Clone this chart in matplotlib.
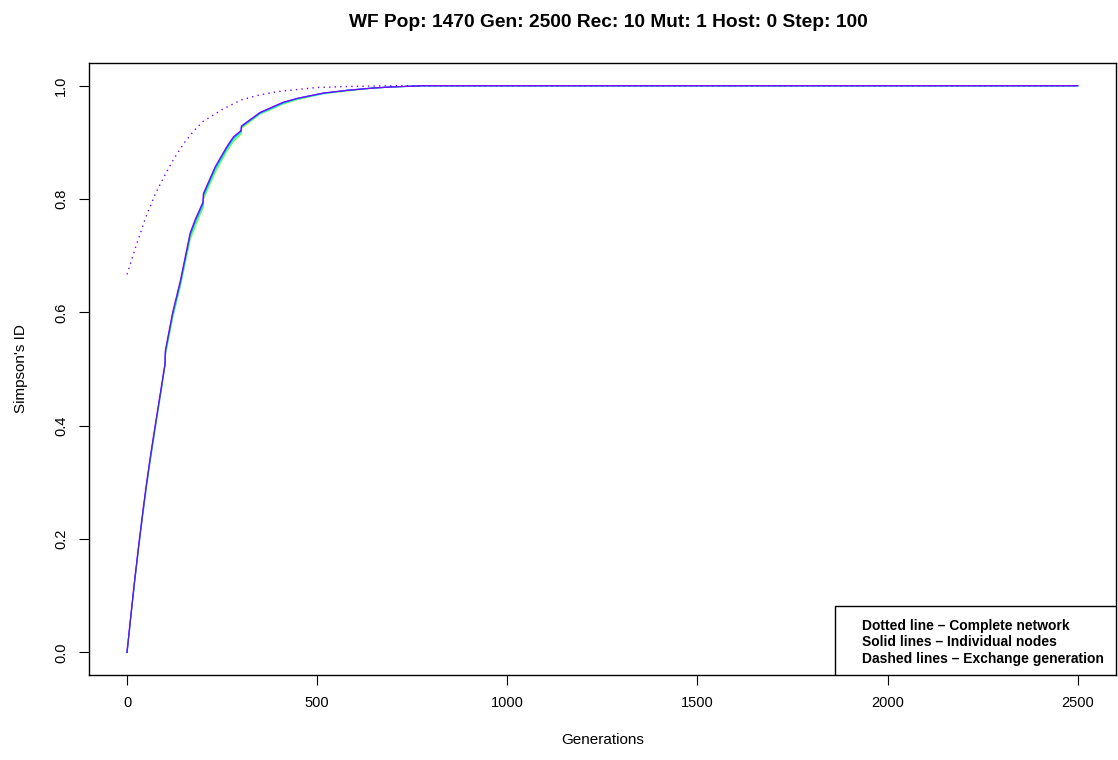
import matplotlib
matplotlib.use("Agg")
import matplotlib.pyplot as plt
from matplotlib.patches import Rectangle

plt.rcParams['font.family'] = ['Liberation Sans', 'DejaVu Sans']

# Simpson's ID per node (solid lines)
node_gens = [0, 10, 20, 30, 40, 50, 60, 70, 80, 90, 100, 101, 120, 140, 166, 180,
             200, 201, 232, 262, 280, 300, 301, 350, 411, 450, 516, 580, 648, 700, 780, 2500]
node_green = [0.0, 0.062, 0.123, 0.180, 0.234, 0.285, 0.332, 0.376, 0.419, 0.461, 0.506, 0.524,
              0.590, 0.645, 0.728, 0.753, 0.785, 0.800, 0.847, 0.884, 0.902, 0.915, 0.925,
              0.950, 0.968, 0.976, 0.986, 0.991, 0.996, 0.998, 1.0, 1.0]
node_cyan = [0.0, 0.063, 0.125, 0.182, 0.236, 0.288, 0.335, 0.379, 0.422, 0.464, 0.508, 0.528,
             0.594, 0.649, 0.733, 0.758, 0.789, 0.804, 0.851, 0.887, 0.905, 0.918, 0.927,
             0.951, 0.969, 0.977, 0.986, 0.992, 0.996, 0.998, 1.0, 1.0]
node_blue = [0.0, 0.064, 0.126, 0.184, 0.238, 0.290, 0.337, 0.381, 0.424, 0.466, 0.509, 0.531,
             0.597, 0.652, 0.737, 0.762, 0.792, 0.807, 0.855, 0.890, 0.908, 0.920, 0.928,
             0.952, 0.970, 0.978, 0.987, 0.992, 0.996, 0.998, 1.0, 1.0]
node_purple = [0.0, 0.064, 0.127, 0.185, 0.240, 0.292, 0.339, 0.383, 0.425, 0.467, 0.510, 0.533,
               0.600, 0.655, 0.740, 0.765, 0.795, 0.810, 0.857, 0.892, 0.910, 0.921, 0.929,
               0.953, 0.971, 0.978, 0.987, 0.992, 0.996, 0.998, 1.0, 1.0]
node_series = [node_green, node_cyan, node_blue, node_purple]
node_colors = ['#80FF00', '#00FFFF', '#0080FF', '#8000FF']

# complete network (dotted line)
net_gens = [0, 25, 50, 75, 100, 125, 150, 175, 200, 250, 300, 350, 400, 500, 600, 700, 2500]
net_vals = [0.667, 0.72, 0.769, 0.81, 0.843, 0.873, 0.899, 0.92, 0.937, 0.958, 0.975,
            0.984, 0.990, 0.997, 0.999, 1.0, 1.0]

fig = plt.figure(figsize=(11.18, 7.6), dpi=100)
ax = fig.add_axes([0.0796, 0.1118, 0.9184, 0.8052])

for vals, col in zip(node_series, node_colors):
    ax.plot(node_gens, vals, color=col, lw=0.9)
ax.plot(net_gens, net_vals, color='#8000FF', lw=1.0, linestyle=(0, (1, 3)))

ax.set_xlim(-100, 2600)
ax.set_ylim(-0.04, 1.04)
ax.set_xticks([0, 500, 1000, 1500, 2000, 2500])
ax.set_yticks([0.0, 0.2, 0.4, 0.6, 0.8, 1.0])
ax.set_yticklabels(['0.0', '0.2', '0.4', '0.6', '0.8', '1.0'], rotation=90, va='center')
ax.tick_params(direction='out', length=7, width=0.8, labelsize=10.5, pad=8)
for s in ax.spines.values():
    s.set_linewidth(1.0)

ax.set_xlabel('Generations', fontsize=11, labelpad=17)
ax.set_ylabel("Simpson's ID", fontsize=11, labelpad=19)
ax.set_title('WF Pop: 1470 Gen: 2500 Rec: 10 Mut: 1 Host: 0 Step: 100',
             fontsize=13.8, fontweight='bold', pad=26, x=0.506)

# legend box at bottom right
ax.add_patch(Rectangle((0.7264, 0.0), 0.2736, 0.1127, transform=ax.transAxes,
                       facecolor='white', edgecolor='black', lw=1.0, zorder=5))
legend_lines = ['Dotted line \u2013 Complete network',
                'Solid lines \u2013 Individual nodes',
                'Dashed lines \u2013 Exchange generation']
for i, txt in enumerate(legend_lines):
    ax.text(0.7527, 0.0801 - i * 0.0266, txt, transform=ax.transAxes, fontsize=10,
            fontweight='bold', va='center', ha='left', zorder=6)

fig.savefig('out.png', dpi=100)
